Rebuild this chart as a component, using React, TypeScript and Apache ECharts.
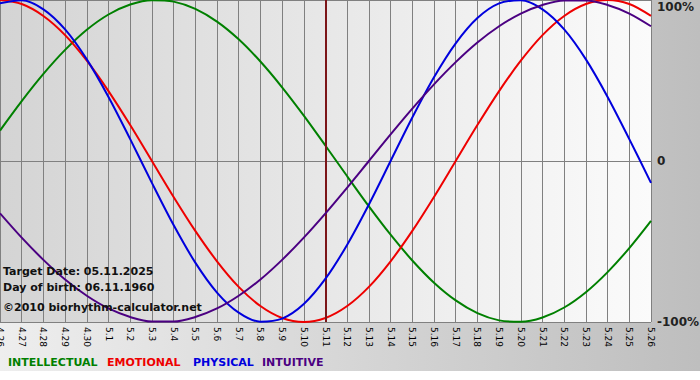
import React, { useEffect, useRef } from "react";
import * as echarts from "echarts";

const days = [
  "4.26", "4.27", "4.28", "4.29", "4.30", "5.1", "5.2", "5.3", "5.4", "5.5", "5.6",
  "5.7", "5.8", "5.9", "5.10", "5.11", "5.12", "5.13", "5.14", "5.15", "5.16",
  "5.17", "5.18", "5.19", "5.20", "5.21", "5.22", "5.23", "5.24", "5.25", "5.26",
];

const intellectual = [
  0.189, 0.372, 0.541, 0.69, 0.815, 0.91, 0.972, 0.999, 0.99, 0.945, 0.866, 0.756, 0.618,
  0.458, 0.282, 0.095, -0.095, -0.282, -0.458, -0.618, -0.756, -0.866, -0.945, -0.99,
  -0.999, -0.972, -0.91, -0.815, -0.69, -0.541, -0.372,
];

const emotional = [
  1.0, 0.975, 0.901, 0.782, 0.623, 0.434, 0.223, 0.0, -0.223, -0.434, -0.623, -0.782,
  -0.901, -0.975, -1.0, -0.975, -0.901, -0.782, -0.623, -0.434, -0.223, 0.0, 0.223, 0.434,
  0.623, 0.782, 0.901, 0.975, 1.0, 0.975, 0.901,
];

const physical = [
  0.979, 0.998, 0.942, 0.817, 0.631, 0.398, 0.136, -0.136, -0.398, -0.631, -0.817, -0.942,
  -0.998, -0.979, -0.888, -0.731, -0.52, -0.27, 0.0, 0.27, 0.52, 0.731, 0.888, 0.979,
  0.998, 0.942, 0.817, 0.631, 0.398, 0.136, -0.136,
];

const intuitive = [
  -0.325, -0.476, -0.614, -0.736, -0.837, -0.916, -0.969, -0.997, -0.997, -0.969, -0.916,
  -0.837, -0.736, -0.614, -0.476, -0.325, -0.165, 0.0, 0.165, 0.325, 0.476, 0.614, 0.736,
  0.837, 0.916, 0.969, 0.997, 0.997, 0.969, 0.916, 0.837,
];

const targetDay = "5.11";
const yTicks = [-1, 0, 1];
const yTickLabels = ["-100%", "0", "100%"];

const seriesNames = ["INTELLECTUAL", "EMOTIONAL", "PHYSICAL", "INTUITIVE"];
const seriesColors = ["#008000", "#ee0000", "#0000dd", "#4b0082"];
const legendX = [8, 107, 193, 262];

const infoLines = [
  "Target Date: 05.11.2025",
  "Day of birth: 06.11.1960",
  "\u00a92010 biorhythm-calculator.net",
];
const infoY = [271, 287, 307];

const FONT = "DejaVu Sans, Verdana, sans-serif";

export default function App() {
  const ref = useRef<HTMLDivElement>(null);

  useEffect(() => {
    if (!ref.current) return;
    const chart = echarts.init(ref.current, null, { renderer: "svg" });
    const data = [intellectual, emotional, physical, intuitive];

    const option: any = {
      animation: false,
      backgroundColor: {
        type: "linear",
        x: 0,
        y: 0,
        x2: 1,
        y2: 0,
        colorStops: [
          { offset: 0, color: "#eeeeee" },
          { offset: 1, color: "#bebebe" },
        ],
      },
      grid: {
        left: 0,
        right: 49,
        top: 0,
        bottom: 58,
        containLabel: false,
        outerBoundsMode: "none",
        show: true,
        borderWidth: 0,
        backgroundColor: {
          type: "linear",
          x: 0,
          y: 0,
          x2: 1,
          y2: 0,
          colorStops: [
            { offset: 0, color: "#d4d4d4" },
            { offset: 1, color: "#fbfbfb" },
          ],
        },
      },
      xAxis: {
        type: "category",
        data: days,
        boundaryGap: false,
        axisLine: { show: true, lineStyle: { color: "#808080", width: 1 } },
        axisTick: { show: true, length: 4, interval: 0, lineStyle: { color: "#808080" } },
        splitLine: { show: true, interval: 0, lineStyle: { color: "#808080", width: 1 } },
        axisLabel: {
          interval: 0,
          rotate: -90,
          margin: 5,
          fontSize: 9,
          color: "#000",
          fontFamily: FONT,
          hideOverlap: false,
        },
      },
      yAxis: {
        type: "value",
        position: "right",
        min: -1,
        max: 1,
        interval: 1,
        axisLine: { show: false },
        axisTick: { show: false },
        splitLine: { show: true, lineStyle: { color: "#808080", width: 1 } },
        axisLabel: {
          margin: 6,
          fontSize: 12,
          fontWeight: "bold",
          color: "#222",
          fontFamily: FONT,
          formatter: (v: number) => {
            const idx = yTicks.indexOf(v);
            if (idx < 0) return "";
            return v === 1 ? `{t|${yTickLabels[idx]}}` : yTickLabels[idx];
          },
          rich: {
            t: {
              fontSize: 12,
              fontWeight: "bold",
              color: "#222",
              fontFamily: FONT,
              padding: [14, 0, 0, 0],
            },
          },
        },
      },
      series: seriesNames.map((name, i) => ({
        name,
        type: "line",
        data: data[i],
        smooth: 0.33,
        showSymbol: false,
        symbol: "none",
        lineStyle: { color: seriesColors[i], width: 2 },
        itemStyle: { color: seriesColors[i] },
        z: 3 + i,
        ...(i === 0
          ? {
              markLine: {
                silent: true,
                symbol: "none",
                label: { show: false },
                lineStyle: { color: "#7b1518", width: 2, type: "solid" },
                data: [{ xAxis: targetDay }],
              },
            }
          : {}),
      })),
      graphic: [
        {
          type: "rect",
          shape: { x: 0, y: 371, width: 700, height: 9 },
          style: { fill: "#ffffff" },
          z: 0,
          silent: true,
        },
        ...infoLines.map((t, i) => ({
          type: "text",
          x: 3,
          y: infoY[i],
          z: 10,
          style: {
            text: t,
            fill: "#111",
            font: `bold 11px ${FONT}`,
            verticalAlign: "middle",
          },
        })),
        ...seriesNames.map((n, i) => ({
          type: "text",
          x: legendX[i],
          y: 362,
          z: 10,
          style: {
            text: n,
            fill: seriesColors[i],
            font: `bold 11px ${FONT}`,
            verticalAlign: "middle",
          },
        })),
      ],
    };

    chart.setOption(option);
    return () => chart.dispose();
  }, []);

  return (
    <div
      ref={ref}
      style={{ position: "fixed", left: 0, top: 0, width: 700, height: 380 }}
    />
  );
}
